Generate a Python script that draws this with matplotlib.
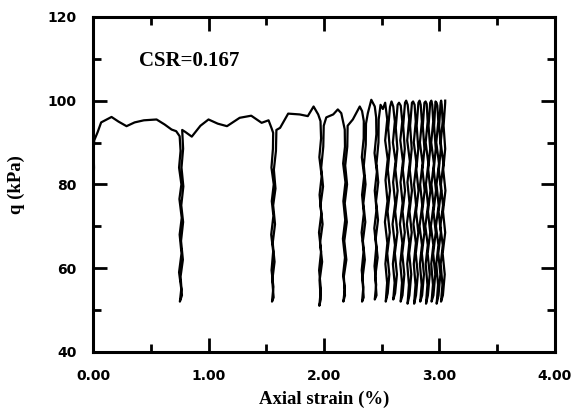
import matplotlib
matplotlib.use("Agg")
import matplotlib.pyplot as plt
from matplotlib.ticker import MultipleLocator, FormatStrFormatter

# cyclic triaxial record: axial strain (%) vs deviator stress q (kPa)
# one line per stage: monotonic part / each unload (down) and reload (up)
strain = [
    0.000, 0.003, 0.000, 0.004, 0.008, 0.005, 0.010, 0.040, 0.070, 0.160,
    0.220, 0.290, 0.360, 0.440, 0.550, 0.620, 0.680, 0.720, 0.750,
    # cycle 1
    0.758, 0.745, 0.765, 0.748, 0.768, 0.750, 0.766, 0.745, 0.764, 0.752,
    0.770, 0.758, 0.778, 0.762, 0.780, 0.764, 0.782, 0.766, 0.780, 0.772,
    0.800, 0.855, 0.930, 1.000, 1.080, 1.160, 1.270, 1.370, 1.460, 1.520, 1.545, 1.560,
    # cycle 2
    1.558, 1.545, 1.565, 1.548, 1.562, 1.543, 1.560, 1.546, 1.562, 1.550,
    1.564, 1.552, 1.572, 1.556, 1.576, 1.560, 1.580, 1.566, 1.584, 1.588,
    1.620, 1.690, 1.790, 1.860, 1.910, 1.950, 1.970,
    # cycle 3
    1.975, 1.960, 1.980, 1.962, 1.977, 1.957, 1.975, 1.958, 1.973, 1.960,
    1.972, 1.962, 1.984, 1.966, 1.988, 1.970, 1.992, 1.976, 1.994, 1.998,
    2.020, 2.080, 2.120, 2.150, 2.180,
    # cycle 4
    2.182, 2.166, 2.186, 2.168, 2.184, 2.164, 2.182, 2.166, 2.180, 2.168,
    2.182, 2.172, 2.194, 2.176, 2.198, 2.180, 2.200, 2.184, 2.202, 2.205,
    2.250, 2.310, 2.330, 2.345,
    # cycle 5
    2.344, 2.328, 2.348, 2.330, 2.345, 2.326, 2.343, 2.327, 2.341, 2.330,
    2.344, 2.333, 2.354, 2.337, 2.358, 2.341, 2.360, 2.345, 2.362, 2.364,
    2.380, 2.410, 2.440, 2.452,
    # cycle 6
    2.454, 2.438, 2.458, 2.440, 2.455, 2.436, 2.453, 2.438, 2.452, 2.440,
    2.455, 2.444, 2.465, 2.448, 2.468, 2.451, 2.470, 2.455, 2.472, 2.474,
    2.490, 2.510, 2.530,
    # cycle 7
    2.548, 2.530, 2.552, 2.533, 2.550, 2.528, 2.549, 2.532, 2.547, 2.535,
    2.552, 2.566, 2.548, 2.570, 2.551, 2.572, 2.553, 2.570, 2.556, 2.572,
    2.585, 2.600,
    # cycle 8
    2.614, 2.597, 2.620, 2.599, 2.617, 2.594, 2.615, 2.597, 2.612, 2.600,
    2.616, 2.632, 2.614, 2.636, 2.617, 2.638, 2.619, 2.636, 2.622, 2.638,
    2.650, 2.665,
    # cycle 9
    2.678, 2.661, 2.684, 2.663, 2.681, 2.658, 2.679, 2.661, 2.676, 2.664,
    2.680, 2.696, 2.678, 2.700, 2.681, 2.702, 2.683, 2.700, 2.686, 2.702,
    2.712, 2.725,
    # cycle 10
    2.738, 2.721, 2.744, 2.723, 2.741, 2.718, 2.739, 2.721, 2.736, 2.724,
    2.740, 2.756, 2.738, 2.760, 2.741, 2.762, 2.743, 2.760, 2.746, 2.762,
    2.772, 2.785,
    # cycle 11
    2.795, 2.778, 2.801, 2.780, 2.798, 2.775, 2.796, 2.778, 2.793, 2.781,
    2.797, 2.813, 2.795, 2.817, 2.798, 2.819, 2.800, 2.817, 2.803, 2.818,
    2.828, 2.838,
    # cycle 12
    2.848, 2.831, 2.854, 2.833, 2.851, 2.828, 2.849, 2.831, 2.846, 2.834,
    2.850, 2.866, 2.848, 2.870, 2.851, 2.872, 2.853, 2.870, 2.856, 2.870,
    2.880, 2.890,
    # cycle 13
    2.898, 2.881, 2.904, 2.883, 2.901, 2.878, 2.899, 2.881, 2.896, 2.884,
    2.900, 2.916, 2.898, 2.920, 2.901, 2.922, 2.903, 2.920, 2.906, 2.920,
    2.930, 2.938,
    # cycle 14
    2.946, 2.929, 2.952, 2.931, 2.949, 2.926, 2.947, 2.929, 2.944, 2.932,
    2.948, 2.964, 2.946, 2.968, 2.949, 2.970, 2.951, 2.968, 2.954, 2.966,
    2.975, 2.982,
    # cycle 15
    2.990, 2.973, 2.996, 2.975, 2.993, 2.970, 2.991, 2.973, 2.988, 2.976,
    2.992, 3.008, 2.990, 3.012, 2.993, 3.014, 2.995, 3.012, 2.998, 3.010,
    3.015, 3.020,
    # cycle 16
    3.028, 3.011, 3.034, 3.013, 3.031, 3.008, 3.029, 3.011, 3.026, 3.014,
    3.030, 3.046, 3.028, 3.050, 3.031, 3.052, 3.033, 3.050, 3.036, 3.050,
    3.050,
]

q = [
    62.0, 70.0, 76.0, 80.0, 84.0, 88.0, 90.5, 92.5, 94.8, 96.1,
    95.0, 93.9, 94.8, 95.3, 95.5, 94.3, 93.1, 92.7, 91.5,
    # cycle 1
    88.0, 84.0, 80.0, 76.5, 72.0, 68.0, 63.5, 59.0, 55.0, 52.0,
    53.5, 58.0, 62.0, 66.5, 71.0, 75.0, 79.5, 84.0, 88.5, 93.0,
    92.5, 91.4, 94.0, 95.5, 94.5, 93.9, 95.9, 96.4, 94.7, 95.3, 93.5, 92.3,
    # cycle 2
    88.5, 84.0, 80.0, 76.0, 72.5, 68.0, 64.0, 59.5, 55.5, 52.0,
    53.0, 57.0, 61.5, 66.0, 70.5, 75.0, 79.0, 83.5, 88.0, 93.0,
    93.5, 96.9, 96.7, 96.3, 98.6, 96.7, 95.1,
    # cycle 3
    91.0, 86.5, 82.0, 77.5, 73.0, 68.5, 64.0, 59.5, 55.0, 51.0,
    52.5, 57.0, 61.5, 66.0, 70.5, 75.0, 79.5, 84.0, 89.0, 94.0,
    96.0, 96.7, 97.9, 97.0, 93.1,
    # cycle 4
    89.0, 85.0, 80.5, 76.0, 71.5, 67.0, 62.5, 58.5, 55.0, 52.0,
    53.5, 58.0, 62.0, 66.5, 71.0, 75.5, 80.0, 84.5, 89.0, 94.0,
    95.5, 98.6, 97.5, 95.1,
    # cycle 5
    91.0, 86.5, 82.0, 77.5, 73.0, 68.5, 64.0, 59.5, 55.5, 52.0,
    53.0, 57.5, 62.0, 66.5, 71.0, 75.5, 80.0, 84.5, 89.5, 94.5,
    97.0, 100.2, 98.6, 96.0,
    # cycle 6
    92.0, 87.5, 83.0, 78.5, 74.0, 69.5, 65.0, 60.5, 56.0, 52.5,
    53.5, 58.0, 62.5, 67.0, 71.5, 76.0, 80.5, 85.0, 90.0, 95.5,
    99.0, 98.0, 99.5,
    # cycle 7
    95.5, 90.5, 86.0, 81.0, 76.0, 71.0, 66.0, 61.0, 56.5, 52.0,
    54.0, 58.5, 63.5, 68.5, 73.5, 78.5, 83.5, 88.5, 93.5, 98.5,
    99.8, 98.6,
    # cycle 8
    95.0, 90.0, 85.5, 80.5, 75.5, 70.5, 65.5, 61.0, 56.5, 52.5,
    54.0, 58.5, 63.5, 68.5, 73.5, 78.5, 83.5, 88.5, 93.5, 99.0,
    99.5, 98.8,
    # cycle 9
    95.0, 90.5, 85.5, 80.5, 75.5, 70.5, 66.0, 61.0, 56.5, 52.0,
    53.5, 58.5, 63.5, 68.5, 73.5, 78.5, 83.5, 88.5, 94.0, 99.5,
    100.0, 99.0,
    # cycle 10
    95.5, 90.5, 85.5, 80.5, 75.5, 70.5, 66.0, 61.0, 56.0, 51.5,
    53.5, 58.5, 63.5, 68.5, 73.5, 78.5, 83.5, 88.5, 94.0, 99.5,
    99.8, 99.0,
    # cycle 11
    95.0, 90.0, 85.0, 80.0, 75.0, 70.5, 66.0, 61.0, 56.0, 51.5,
    53.5, 58.5, 63.5, 68.5, 73.5, 78.5, 83.5, 88.5, 94.0, 99.5,
    100.0, 99.0,
    # cycle 12
    95.0, 90.0, 85.0, 80.0, 75.0, 70.0, 65.5, 61.0, 56.0, 52.0,
    53.5, 58.5, 63.5, 68.5, 73.5, 78.5, 83.5, 88.5, 94.0, 99.5,
    99.8, 99.2,
    # cycle 13
    95.0, 90.0, 85.0, 80.0, 75.0, 70.0, 65.5, 61.0, 56.0, 51.5,
    53.5, 58.5, 63.5, 68.5, 73.5, 78.5, 83.5, 88.5, 94.0, 99.5,
    100.0, 99.0,
    # cycle 14
    95.0, 90.0, 85.0, 80.0, 75.0, 70.0, 65.5, 61.0, 56.0, 52.0,
    53.5, 58.5, 63.5, 68.5, 73.5, 78.5, 83.5, 88.5, 94.0, 99.8,
    99.5, 98.8,
    # cycle 15
    95.0, 90.0, 85.0, 80.0, 75.0, 70.0, 65.5, 61.0, 56.0, 51.5,
    53.5, 58.5, 63.5, 68.5, 73.5, 78.5, 83.5, 88.5, 94.0, 99.5,
    100.0, 99.0,
    # cycle 16
    95.0, 90.0, 85.0, 80.0, 75.0, 70.0, 65.5, 61.0, 56.0, 52.0,
    53.5, 58.5, 63.5, 68.5, 73.5, 78.5, 83.5, 88.5, 94.0, 99.5,
    100.0,
]
assert len(strain) == len(q)

CSR_LABEL = "CSR=0.167"

SANS = "DejaVu Sans"
SERIF = "Liberation Serif"

fig = plt.figure(figsize=(5.78, 4.12), dpi=100)
ax = fig.add_axes([0.161, 0.146, 0.799, 0.813])

ax.plot(strain, q, color="black", lw=1.6, solid_joinstyle="round")

ax.set_xlim(0, 4)
ax.set_ylim(40, 120)
ax.xaxis.set_major_locator(MultipleLocator(1))
ax.xaxis.set_minor_locator(MultipleLocator(0.5))
ax.yaxis.set_major_locator(MultipleLocator(20))
ax.yaxis.set_minor_locator(MultipleLocator(10))
ax.xaxis.set_major_formatter(FormatStrFormatter("%.2f"))

for s in ax.spines.values():
    s.set_linewidth(2.2)
ax.tick_params(which="both", direction="in", top=True, right=True, width=2.0)
ax.tick_params(which="major", length=10, pad=12)
ax.tick_params(which="minor", length=6)
for lab in ax.get_xticklabels() + ax.get_yticklabels():
    lab.set_fontfamily(SANS)
    lab.set_fontweight("bold")
    lab.set_fontsize(10)

ax.set_xlabel("Axial strain (%)", fontfamily=SERIF, fontweight="bold",
              fontsize=13.5, labelpad=6)
ax.set_ylabel("q (kPa)", fontfamily=SERIF, fontweight="bold",
              fontsize=13.5, labelpad=16)

ax.text(0.40, 109.5, CSR_LABEL, fontfamily=SERIF, fontweight="bold",
        fontsize=15, va="center", ha="left")

fig.savefig("out.png", dpi=100)
